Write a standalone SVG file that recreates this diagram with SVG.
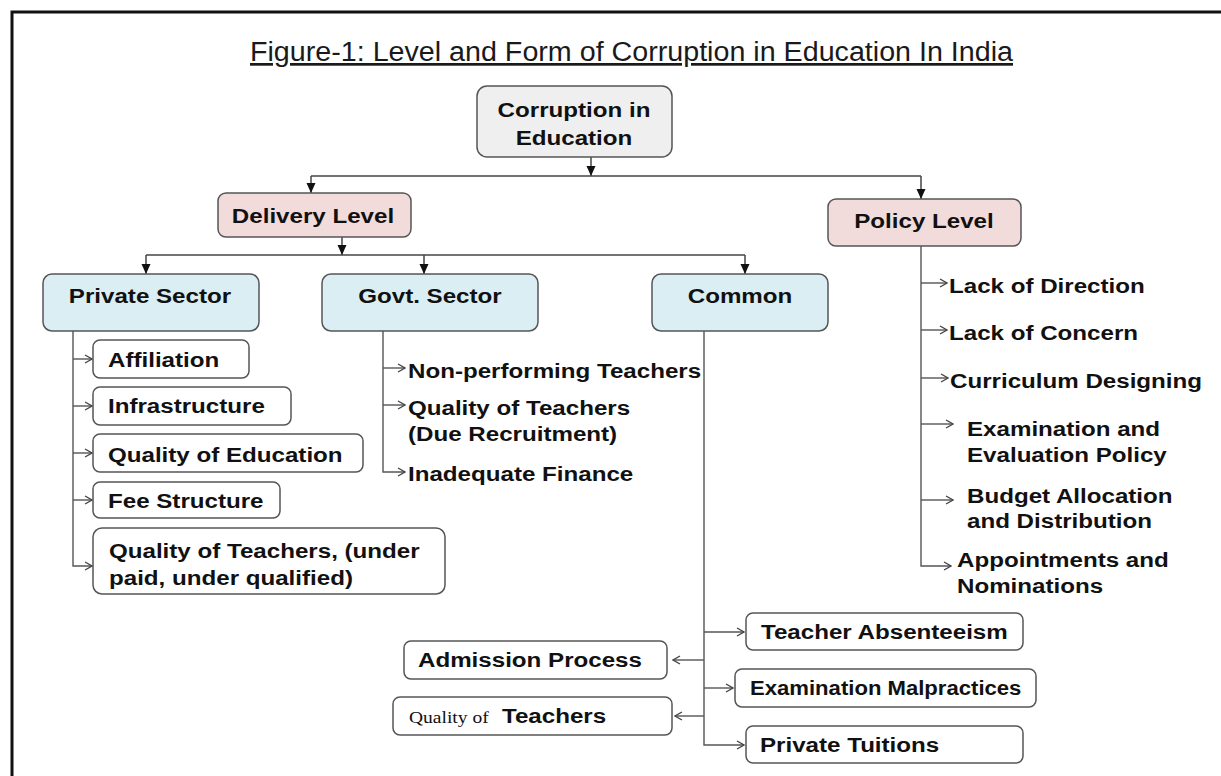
<svg xmlns="http://www.w3.org/2000/svg" width="1221" height="776" viewBox="0 0 1221 776">
  <style>
    .frame { fill: none; stroke: #111; stroke-width: 3; }
    .title { font-family: "Liberation Sans", Arial, sans-serif; font-size: 27px; fill: #1a1a1a; text-decoration: underline; }
    .box { stroke: #555; stroke-width: 1.5; }
    .root { fill: #efefef; }
    .level { fill: #f2dcdb; }
    .sector { fill: #daeef3; }
    .item { fill: #ffffff; }
    .t { font-family: "Liberation Sans", Arial, sans-serif; font-weight: bold; font-size: 21px; fill: #111;
         transform-box: fill-box; transform: scaleX(1.15); }
    .l { transform-origin: 0 0; }
    .c { text-anchor: middle; transform-origin: 50% 50%; }
    .serif { font-family: "Liberation Serif", "Times New Roman", serif; font-weight: normal; font-size: 17px; }
    .bus { fill: none; stroke: #444; stroke-width: 1.5; }
    .tree { fill: none; stroke: #555; stroke-width: 1.4; }
  </style>
  <defs>
    <marker id="solid" viewBox="-10 -5 10 10" refX="0" refY="0" markerWidth="10" markerHeight="10" markerUnits="userSpaceOnUse" orient="auto">
      <path d="M-10,-4.5 L0,0 L-10,4.5 Z" fill="#111"/>
    </marker>
    <marker id="open" viewBox="-10 -5 11 10" refX="0" refY="0" markerWidth="11" markerHeight="10" markerUnits="userSpaceOnUse" orient="auto">
      <path d="M-7,-4 L0,0 L-7,4" fill="none" stroke="#444" stroke-width="1.3"/>
    </marker>
  </defs>

  <rect width="1221" height="776" fill="#ffffff"/>
  <path class="frame" d="M12,776 V12 H1221"/>

  <text class="title" x="631.5" y="61" text-anchor="middle" textLength="763" lengthAdjust="spacingAndGlyphs">Figure-1: Level and Form of Corruption in Education In India</text>

  <!-- connectors -->
  <g id="connectors">
    <!-- top level split -->
    <path class="bus" d="M591,157 V176" marker-end="url(#solid)"/>
    <path class="bus" d="M311,176 H921"/>
    <path class="bus" d="M311,176 V193" marker-end="url(#solid)"/>
    <path class="bus" d="M921,176 V199" marker-end="url(#solid)"/>
    <!-- delivery level split -->
    <path class="bus" d="M342,237 V255" marker-end="url(#solid)"/>
    <path class="bus" d="M146,255 H745"/>
    <path class="bus" d="M146,255 V274" marker-end="url(#solid)"/>
    <path class="bus" d="M424,255 V274" marker-end="url(#solid)"/>
    <path class="bus" d="M745,255 V274" marker-end="url(#solid)"/>

    <!-- private sector branches -->
    <path class="tree" d="M73,331 V566 H92" marker-end="url(#open)"/>
    <path class="tree" d="M73,359 H92" marker-end="url(#open)"/>
    <path class="tree" d="M73,406 H92" marker-end="url(#open)"/>
    <path class="tree" d="M73,453 H92" marker-end="url(#open)"/>
    <path class="tree" d="M73,500 H92" marker-end="url(#open)"/>

    <!-- govt sector branches -->
    <path class="tree" d="M383,331 V472 H405" marker-end="url(#open)"/>
    <path class="tree" d="M383,368 H405" marker-end="url(#open)"/>
    <path class="tree" d="M383,405 H405" marker-end="url(#open)"/>

    <!-- common branches -->
    <path class="tree" d="M704,331 V745 H744" marker-end="url(#open)"/>
    <path class="tree" d="M704,632 H744" marker-end="url(#open)"/>
    <path class="tree" d="M704,688 H733" marker-end="url(#open)"/>
    <path class="tree" d="M704,660 H673" marker-end="url(#open)"/>
    <path class="tree" d="M704,716 H675" marker-end="url(#open)"/>

    <!-- policy level branches -->
    <path class="tree" d="M921,246 V566 H951" marker-end="url(#open)"/>
    <path class="tree" d="M921,283 H947" marker-end="url(#open)"/>
    <path class="tree" d="M921,330 H947" marker-end="url(#open)"/>
    <path class="tree" d="M921,378 H948" marker-end="url(#open)"/>
    <path class="tree" d="M921,424 H953" marker-end="url(#open)"/>
    <path class="tree" d="M921,500 H953" marker-end="url(#open)"/>
  </g>

  <!-- root -->
  <g id="node-corruption">
    <rect class="box root" x="477" y="86" width="195" height="71" rx="10"/>
    <text class="t c" x="574" y="117">Corruption in</text>
    <text class="t c" x="574" y="145">Education</text>
  </g>

  <!-- levels -->
  <g id="node-delivery">
    <rect class="box level" x="218" y="193" width="193" height="44" rx="8"/>
    <text class="t c" x="313" y="223">Delivery Level</text>
  </g>
  <g id="node-policy">
    <rect class="box level" x="828" y="199" width="193" height="47" rx="8"/>
    <text class="t c" x="924" y="228">Policy Level</text>
  </g>

  <!-- sectors -->
  <g id="node-private">
    <rect class="box sector" x="43" y="274" width="216" height="57" rx="9"/>
    <text class="t c" x="150" y="303">Private Sector</text>
  </g>
  <g id="node-govt">
    <rect class="box sector" x="322" y="274" width="216" height="57" rx="9"/>
    <text class="t c" x="430" y="303">Govt. Sector</text>
  </g>
  <g id="node-common">
    <rect class="box sector" x="652" y="274" width="176" height="57" rx="9"/>
    <text class="t c" x="740" y="303">Common</text>
  </g>

  <!-- private sector items -->
  <g id="node-affiliation">
    <rect class="box item" x="93" y="340" width="156" height="38" rx="7"/>
    <text class="t l" x="108" y="367">Affiliation</text>
  </g>
  <g id="node-infrastructure">
    <rect class="box item" x="93" y="387" width="198" height="38" rx="7"/>
    <text class="t l" x="108" y="413">Infrastructure</text>
  </g>
  <g id="node-quality-education">
    <rect class="box item" x="93" y="434" width="270" height="38" rx="7"/>
    <text class="t l" x="108" y="462">Quality of Education</text>
  </g>
  <g id="node-fee">
    <rect class="box item" x="93" y="482" width="187" height="36" rx="7"/>
    <text class="t l" x="108" y="508">Fee Structure</text>
  </g>
  <g id="node-quality-teachers-private">
    <rect class="box item" x="93" y="528" width="352" height="66" rx="9"/>
    <text class="t l" x="109" y="558">Quality of Teachers, (under</text>
    <text class="t l" x="109" y="585">paid, under qualified)</text>
  </g>

  <!-- govt sector items -->
  <g id="node-nonperforming">
    <text class="t l" x="408" y="378">Non-performing Teachers</text>
  </g>
  <g id="node-quality-teachers-govt">
    <text class="t l" x="408" y="415">Quality of Teachers</text>
    <text class="t l" x="408" y="441">(Due Recruitment)</text>
  </g>
  <g id="node-finance">
    <text class="t l" x="408" y="481">Inadequate Finance</text>
  </g>

  <!-- policy items -->
  <g id="node-direction">
    <text class="t l" x="949" y="293">Lack of Direction</text>
  </g>
  <g id="node-concern">
    <text class="t l" x="949" y="340">Lack of Concern</text>
  </g>
  <g id="node-curriculum">
    <text class="t l" x="950" y="388">Curriculum Designing</text>
  </g>
  <g id="node-examination-policy">
    <text class="t l" x="967" y="436">Examination and</text>
    <text class="t l" x="967" y="462">Evaluation Policy</text>
  </g>
  <g id="node-budget">
    <text class="t l" x="967" y="503">Budget Allocation</text>
    <text class="t l" x="967" y="528">and Distribution</text>
  </g>
  <g id="node-appointments">
    <text class="t l" x="957" y="567">Appointments and</text>
    <text class="t l" x="957" y="593">Nominations</text>
  </g>

  <!-- common items -->
  <g id="node-absenteeism">
    <rect class="box item" x="746" y="613" width="277" height="37" rx="7"/>
    <text class="t l" x="761" y="639">Teacher Absenteeism</text>
  </g>
  <g id="node-admission">
    <rect class="box item" x="404" y="641" width="263" height="38" rx="7"/>
    <text class="t l" x="418" y="667">Admission Process</text>
  </g>
  <g id="node-malpractices">
    <rect class="box item" x="735" y="669" width="301" height="38" rx="7"/>
    <text class="t l" x="750" y="695" textLength="236" lengthAdjust="spacingAndGlyphs">Examination Malpractices</text>
  </g>
  <g id="node-quality-teachers-common">
    <rect class="box item" x="393" y="697" width="279" height="38" rx="7"/>
    <text class="t l serif" x="409" y="723">Quality of</text>
    <text class="t l" x="502" y="723">Teachers</text>
  </g>
  <g id="node-tuitions">
    <rect class="box item" x="746" y="726" width="277" height="37" rx="7"/>
    <text class="t l" x="760" y="752">Private Tuitions</text>
  </g>
</svg>
